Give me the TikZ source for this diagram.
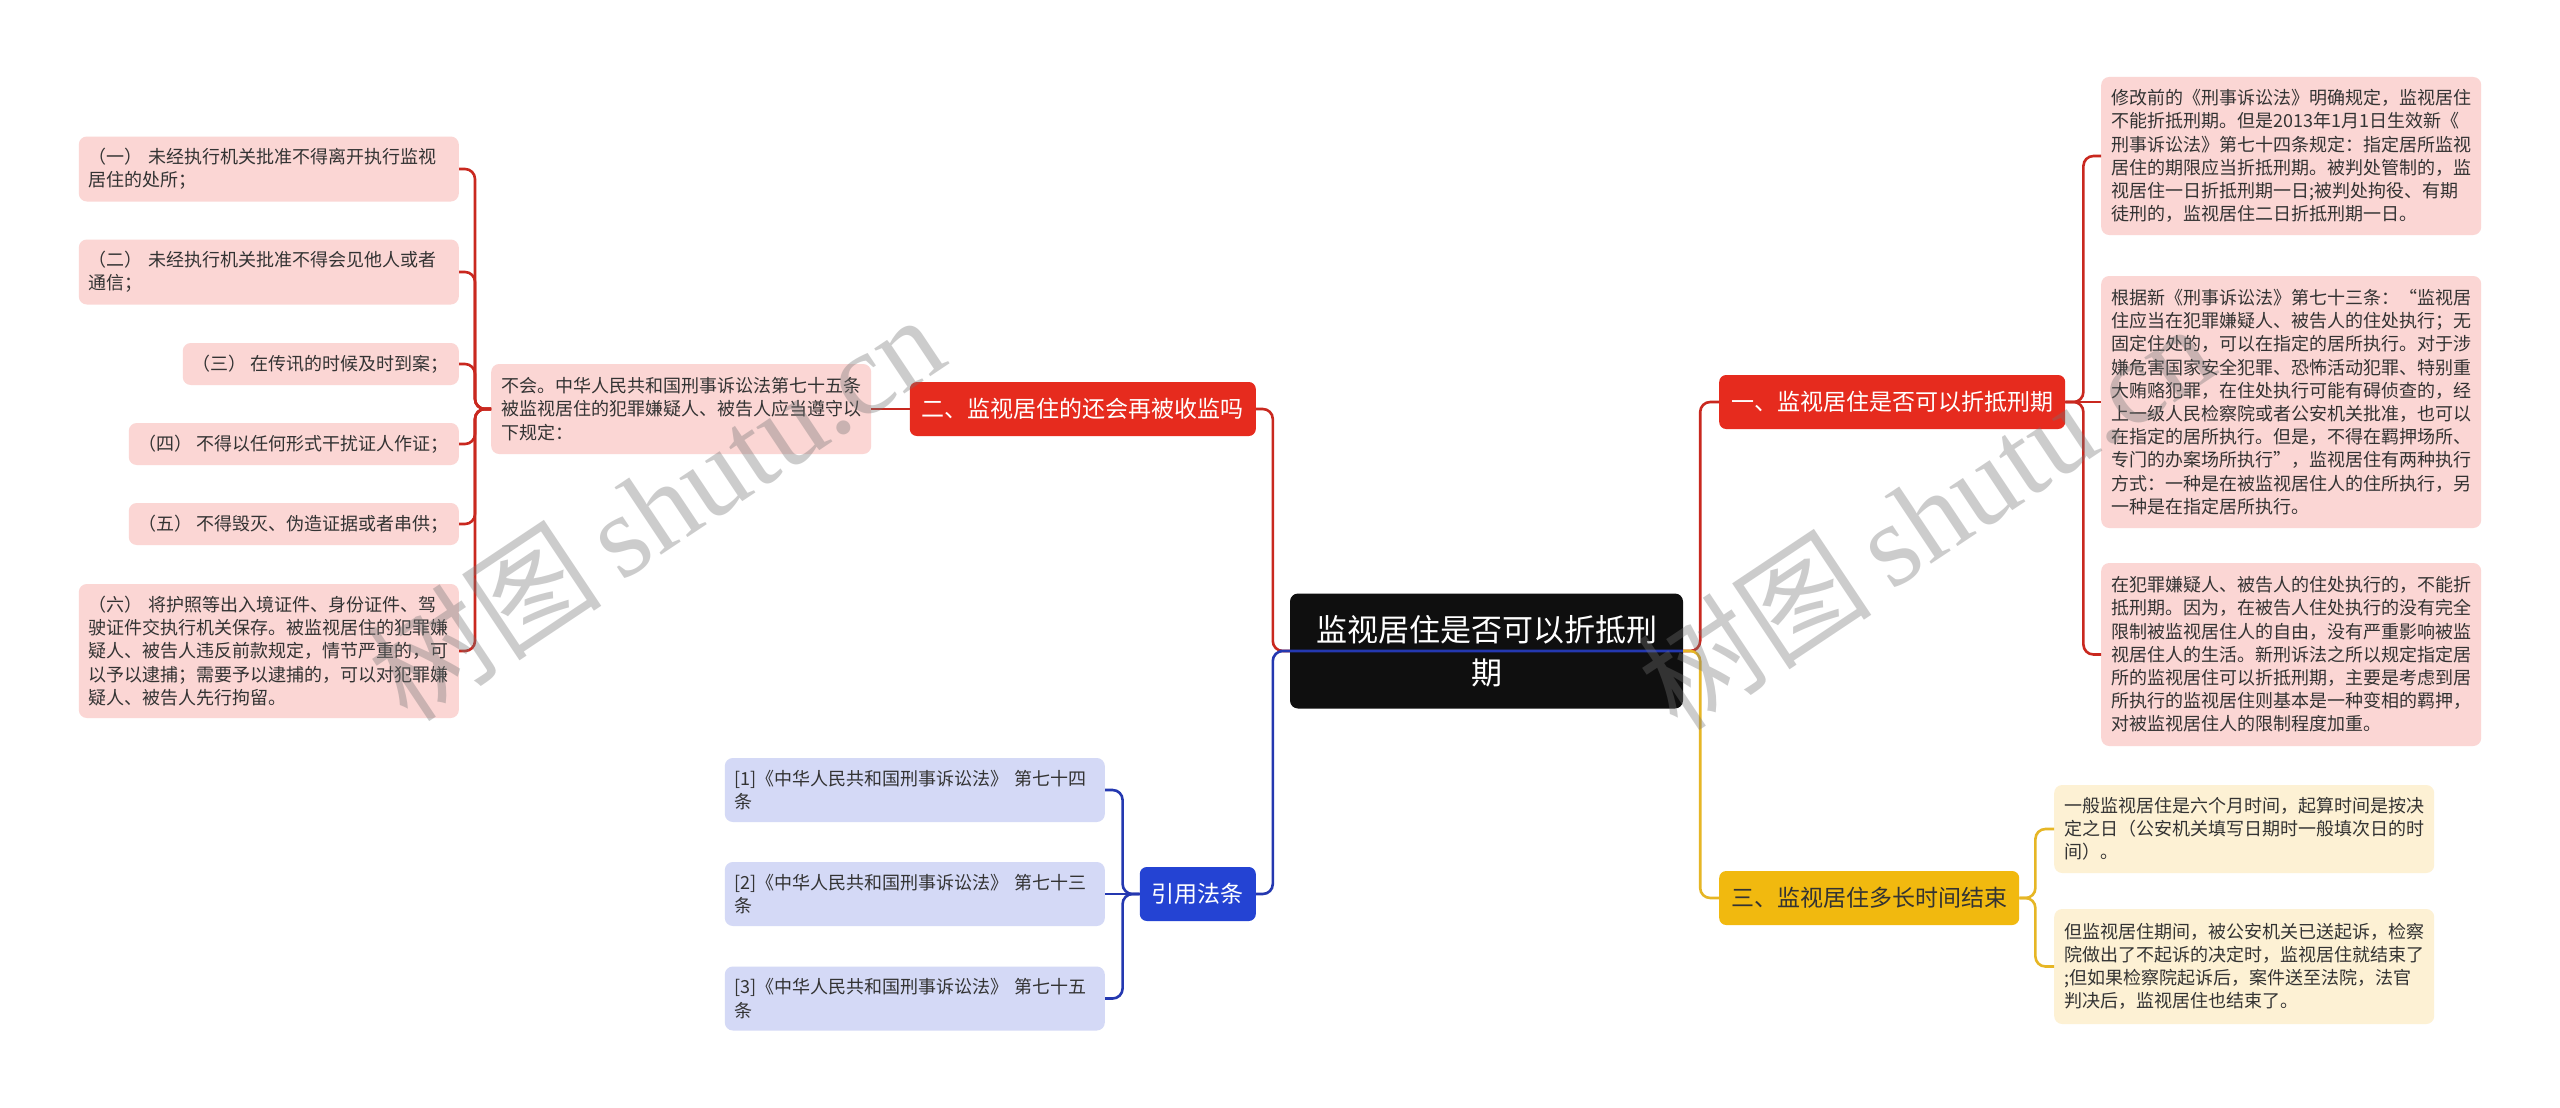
\documentclass[tikz,border=0pt]{standalone}
\usepackage{fontspec}
\setmainfont{Noto Sans CJK SC}
\newfontfamily\wmlatin{Liberation Serif}
\usetikzlibrary{calc}
\definecolor{redB}{HTML}{E62B1E}
\definecolor{redL}{HTML}{C9281F}
\definecolor{pinkF}{HTML}{FBD6D4}
\definecolor{yelB}{HTML}{F1B90F}
\definecolor{yelL}{HTML}{E6B625}
\definecolor{yelF}{HTML}{FDF1D4}
\definecolor{bluB}{HTML}{2443D3}
\definecolor{bluL}{HTML}{2438B0}
\definecolor{bluF}{HTML}{D4D9F6}
\definecolor{cenF}{HTML}{0F0F0F}
\definecolor{txt}{HTML}{333333}
\begin{document}
\begin{tikzpicture}[x=1pt,y=-1pt,
  leaf/.style={rounded corners=8pt, inner xsep=10pt, inner ysep=0pt, align=left,
    font=\fontsize{18}{23.2}\selectfont, text=txt},
  wide/.style={text width=360pt},
  pinkleaf/.style={leaf, fill=pinkF},
  yelleaf/.style={leaf, fill=yelF},
  bluleaf/.style={leaf, fill=bluF},
  branch/.style={rounded corners=7pt, inner xsep=12pt, inner ysep=0pt,
    minimum height=54pt, font=\fontsize{23}{28}\selectfont},
  centre/.style={rounded corners=8pt, fill=cenF, text=white, align=center,
    minimum width=393pt, minimum height=115pt, inner sep=0pt,
    font=\fontsize{31}{43}\selectfont},
  conn/.style={line width=2.6pt, rounded corners=10pt},
  wm/.style={rotate=33.7, text=black!55, text opacity=0.36,
    font=\fontsize{118}{118}\selectfont, inner sep=0pt}
]
\fill[white] (0,0) rectangle (2560,1108);
\useasboundingbox (0,0) rectangle (2560,1108);

% central node
\node[centre] (c) at (1486.5,651) {监视居住是否可以折抵刑\\期};

% main branches
\node[branch, fill=redB, text=white, anchor=east] (b2) at (1256,409) {二、监视居住的还会再被收监吗};
\node[branch, fill=redB, text=white, anchor=west] (b1) at (1719,402) {一、监视居住是否可以折抵刑期};
\node[branch, fill=yelB, text=txt, anchor=west] (b3) at (1719,898) {三、监视居住多长时间结束};
\node[branch, fill=bluB, text=white, anchor=east] (b4) at (1256,894) {引用法条};

% left side (branch 二)
\node[pinkleaf, wide, anchor=west, minimum height=90pt] (m) at (491,409) {不会。中华人民共和国刑事诉讼法第七十五条\\被监视居住的犯罪嫌疑人、被告人应当遵守以\\下规定：};
\node[pinkleaf, wide, anchor=east, minimum height=65pt] (l1) at (459,169) {（一） 未经执行机关批准不得离开执行监视\\居住的处所；};
\node[pinkleaf, wide, anchor=east, minimum height=65pt] (l2) at (459,272) {（二） 未经执行机关批准不得会见他人或者\\通信；};
\node[pinkleaf, anchor=east, minimum height=42pt] (l3) at (459,364) {（三） 在传讯的时候及时到案；};
\node[pinkleaf, anchor=east, minimum height=42pt] (l4) at (459,444) {（四） 不得以任何形式干扰证人作证；};
\node[pinkleaf, anchor=east, minimum height=42pt] (l5) at (459,524) {（五） 不得毁灭、伪造证据或者串供；};
\node[pinkleaf, wide, anchor=east, minimum height=134pt] (l6) at (459,651) {（六） 将护照等出入境证件、身份证件、驾\\驶证件交执行机关保存。被监视居住的犯罪嫌\\疑人、被告人违反前款规定，情节严重的，可\\以予以逮捕；需要予以逮捕的，可以对犯罪嫌\\疑人、被告人先行拘留。};

% right side (branch 一)
\node[pinkleaf, wide, anchor=west, minimum height=158pt] (r1) at (2101,156) {修改前的《刑事诉讼法》明确规定，监视居住\\不能折抵刑期。但是2013年1月1日生效新《\\刑事诉讼法》第七十四条规定：指定居所监视\\居住的期限应当折抵刑期。被判处管制的，监\\视居住一日折抵刑期一日;被判处拘役、有期\\徒刑的，监视居住二日折抵刑期一日。};
\node[pinkleaf, wide, anchor=west, minimum height=252pt] (r2) at (2101,402) {根据新《刑事诉讼法》第七十三条：“监视居\\住应当在犯罪嫌疑人、被告人的住处执行；无\\固定住处的，可以在指定的居所执行。对于涉\\嫌危害国家安全犯罪、恐怖活动犯罪、特别重\\大贿赂犯罪，在住处执行可能有碍侦查的，经\\上一级人民检察院或者公安机关批准，也可以\\在指定的居所执行。但是，不得在羁押场所、\\专门的办案场所执行”，监视居住有两种执行\\方式：一种是在被监视居住人的住所执行，另\\一种是在指定居所执行。};
\node[pinkleaf, wide, anchor=west, minimum height=183pt] (r3) at (2101,654.5) {在犯罪嫌疑人、被告人的住处执行的，不能折\\抵刑期。因为，在被告人住处执行的没有完全\\限制被监视居住人的自由，没有严重影响被监\\视居住人的生活。新刑诉法之所以规定指定居\\所的监视居住可以折抵刑期，主要是考虑到居\\所执行的监视居住则基本是一种变相的羁押，\\对被监视居住人的限制程度加重。};

% branch 三
\node[yelleaf, wide, anchor=west, minimum height=88pt] (y1) at (2054,829) {一般监视居住是六个月时间，起算时间是按决\\定之日（公安机关填写日期时一般填次日的时\\间）。};
\node[yelleaf, wide, anchor=west, minimum height=115pt] (y2) at (2054,966.5) {但监视居住期间，被公安机关已送起诉，检察\\院做出了不起诉的决定时，监视居住就结束了\\;但如果检察院起诉后，案件送至法院，法官\\判决后，监视居住也结束了。};

% references
\node[bluleaf, wide, anchor=east, minimum height=64pt] (f1) at (1105,790) {[1]《中华人民共和国刑事诉讼法》 第七十四\\条};
\node[bluleaf, wide, anchor=east, minimum height=64pt] (f2) at (1105,894) {[2]《中华人民共和国刑事诉讼法》 第七十三\\条};
\node[bluleaf, wide, anchor=east, minimum height=64pt] (f3) at (1105,998.5) {[3]《中华人民共和国刑事诉讼法》 第七十五\\条};

% connectors from the centre
\draw[conn, redL] (c.west) -- ++(-17,0) |- (b2.east);
\draw[conn, bluL] (c.east) -- (c.west) -- ++(-17,0) |- (b4.east);
\draw[conn, redL] (c.east) -- ++(17,0) |- (b1.west);
\draw[conn, yelL] (c.east) -- ++(17,0) |- (b3.west);

% branch 二
\draw[conn, redL] (b2.west) -- (m.east);
\foreach \n in {l1,l2,l3,l4,l5,l6}
  \draw[conn, redL] (m.west) -- ++(-16,0) |- (\n.east);

% branch 一
\draw[conn, redL] (b1.east) -- ++(18,0) |- (r1.west);
\draw[conn, redL] (b1.east) -- (r2.west);
\draw[conn, redL] (b1.east) -- ++(18,0) |- (r3.west);

% branch 三
\draw[conn, yelL] (b3.east) -- ++(16,0) |- (y1.west);
\draw[conn, yelL] (b3.east) -- ++(16,0) |- (y2.west);

% references
\draw[conn, bluL] (b4.west) -- ++(-17,0) |- (f1.east);
\draw[conn, bluL] (b4.west) -- (f2.east);
\draw[conn, bluL] (b4.west) -- ++(-17,0) |- (f3.east);

% watermarks
\node[wm] (wm1) at (655,506) {树图\hspace{20pt}{\wmlatin shutu.cn}};
\node[wm] (wm2) at (1925,515) {树图\hspace{20pt}{\wmlatin shutu.cn}};
\end{tikzpicture}
\end{document}
